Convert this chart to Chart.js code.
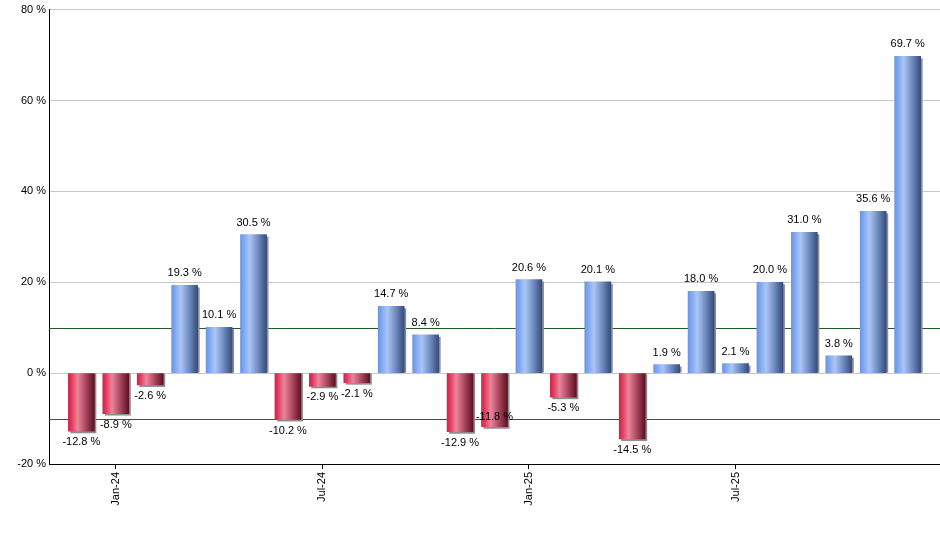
<!DOCTYPE html>
<html><head><meta charset="utf-8">
<script src="https://cdn.jsdelivr.net/npm/chart.js@4/dist/chart.umd.min.js"></script>
<style>html,body{margin:0;padding:0;background:#fff}#wrap{width:940px;height:550px;position:relative}</style>
</head><body><div id="wrap"><canvas id="c"></canvas></div>
<script>
const months = ['Dec-23','Jan-24','Feb-24','Mar-24','Apr-24','May-24','Jun-24','Jul-24','Aug-24','Sep-24','Oct-24','Nov-24','Dec-24','Jan-25','Feb-25','Mar-25','Apr-25','May-25','Jun-25','Jul-25','Aug-25','Sep-25','Oct-25','Nov-25','Dec-25'];
const values = [-12.8,-8.9,-2.6,19.3,10.1,30.5,-10.2,-2.9,-2.1,14.7,8.4,-12.9,-11.8,20.6,-5.3,20.1,-14.5,1.9,18.0,2.1,20.0,31.0,3.8,35.6,69.7];
const tickMonths = ['Jan-24','Jul-24','Jan-25','Jul-25'];
const refLines = [10, -10];
const refColors = ['#1f5a1f', '#008000'];

const FONT = '11px "Liberation Sans", Arial, sans-serif';
const tickIdx = tickMonths.map(m => months.indexOf(m));

const decor = {
  id: 'decor',
  beforeDatasetsDraw(chart) {
    const {ctx, chartArea: a, scales: {y}} = chart;
    ctx.save();
    refLines.forEach((v, k) => {
      const py = Math.round(y.getPixelForValue(v)) + 0.5;
      ctx.strokeStyle = refColors[k];
      ctx.lineWidth = 1;
      ctx.beginPath(); ctx.moveTo(a.left, py); ctx.lineTo(a.right, py); ctx.stroke();
    });
    const meta = chart.getDatasetMeta(0);
    meta.data.forEach((el, i) => {
      const p = el.getProps(['x', 'y', 'base', 'width'], true);
      const l = p.x - p.width / 2, r = p.x + p.width / 2;
      const t = Math.min(p.y, p.base), b = Math.max(p.y, p.base);
      const neg = values[i] < 0;
      ctx.fillStyle = '#8e8e8e';
      if (neg) ctx.fillRect(l + 2, t, p.width, b - t + 2);
      else ctx.fillRect(l + 2, t + 2, p.width, b - t - 2);
      const g = ctx.createLinearGradient(l, 0, r, 0);
      if (neg) {
        g.addColorStop(0, '#d8204a'); g.addColorStop(0.12, '#e03a5e');
        g.addColorStop(0.35, '#eb8599'); g.addColorStop(0.7, '#a5425a');
        g.addColorStop(1, '#5a1222');
      } else {
        g.addColorStop(0, '#6a95e8'); g.addColorStop(0.12, '#7ea6ef');
        g.addColorStop(0.35, '#abc6f5'); g.addColorStop(0.7, '#6a86bb');
        g.addColorStop(1, '#374c78');
      }
      el.options.backgroundColor = g;
    });
    ctx.restore();
  },
  afterDatasetsDraw(chart) {
    const {ctx} = chart;
    const meta = chart.getDatasetMeta(0);
    ctx.save();
    ctx.font = FONT;
    ctx.fillStyle = '#000';
    ctx.textAlign = 'center';
    ctx.textBaseline = 'middle';
    let prev = null;
    meta.data.forEach((el, i) => {
      const p = el.getProps(['x', 'y', 'base'], true);
      const txt = values[i].toFixed(1) + ' %';
      const w = ctx.measureText(txt).width;
      let cy;
      if (values[i] >= 0) cy = p.y - 12;
      else {
        cy = p.y + 11;
        if (prev && Math.abs(prev.cy - cy) < 12 && (p.x - w / 2) < prev.right) cy = p.y - 10;
      }
      ctx.fillText(txt, p.x, cy);
      prev = {cy, right: p.x + w / 2};
    });
    ctx.restore();
  }
};

new Chart(document.getElementById('c'), {
  type: 'bar',
  data: {
    datasets: [{
      data: values.map((v, i) => ({x: i, y: v})),
      barThickness: 26,
      borderWidth: 0,
      backgroundColor: values.map(v => v < 0 ? '#c8304f' : '#7a9ee0')
    }]
  },
  options: {
    responsive: true,
    maintainAspectRatio: false,
    animation: false,
    devicePixelRatio: 1,
    layout: {padding: {top: 9, right: 0, left: 0, bottom: 0}},
    plugins: {legend: {display: false}, tooltip: {enabled: false}},
    scales: {
      x: {
        type: 'linear',
        offset: false,
        min: -0.94, max: 24.94,
        afterBuildTicks: s => { s.ticks = tickIdx.map(v => ({value: v})); },
        afterFit: s => { s.height = 86; },
        ticks: {
          autoSkip: false, minRotation: 90, maxRotation: 90, padding: 3,
          color: '#000', font: {family: '"Liberation Sans", Arial, sans-serif', size: 11},
          callback: v => months[v]
        },
        grid: {offset: false, drawOnChartArea: false, tickLength: 5, color: '#000'},
        border: {color: '#000', width: 1}
      },
      y: {
        min: -20, max: 80,
        afterFit: s => { s.width = 49; },
        ticks: {
          stepSize: 20, padding: 3, color: '#000',
          font: {family: '"Liberation Sans", Arial, sans-serif', size: 11},
          callback: v => v + ' %'
        },
        grid: {color: '#c8c8c8', tickLength: 0},
        border: {color: '#000', width: 1}
      }
    }
  },
  plugins: [decor]
});
</script>
</body></html>
